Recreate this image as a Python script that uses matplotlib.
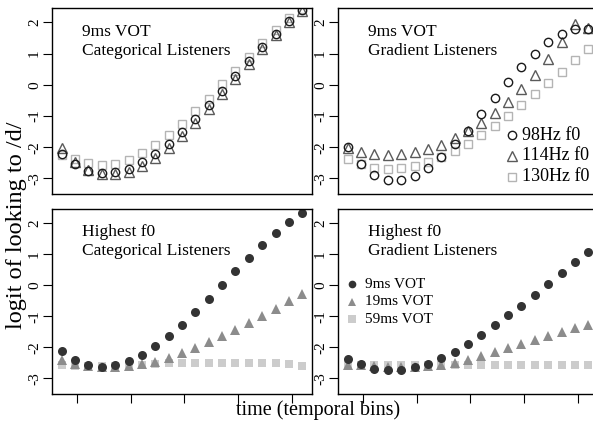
import numpy as np
import matplotlib
matplotlib.use("Agg")
import matplotlib.pyplot as plt

plt.rcParams['font.family'] = ['Liberation Serif', 'DejaVu Serif']

# time bins 1..19
bins = np.arange(1, 20)
xtick_pos = [2.12, 6.15, 10.18, 14.22, 18.25]
ytick_pos = [-3, -2, -1, 0, 1, 2]

# 9ms VOT, categorical listeners (by f0)
tl_98 = [-2.22, -2.54, -2.76, -2.82, -2.80, -2.69, -2.49, -2.21, -1.89, -1.50,
         -1.10, -0.64, -0.19, 0.29, 0.75, 1.20, 1.64, 2.03, 2.39]
tl_114 = [-2.04, -2.47, -2.74, -2.87, -2.87, -2.79, -2.61, -2.34, -2.01, -1.64,
          -1.23, -0.78, -0.30, 0.18, 0.66, 1.14, 1.59, 2.00, 2.36]
tl_130 = [-2.25, -2.37, -2.52, -2.56, -2.53, -2.40, -2.20, -1.93, -1.62, -1.26,
          -0.85, -0.44, 0.01, 0.45, 0.90, 1.33, 1.76, 2.13, 2.42]

# 9ms VOT, gradient listeners (by f0)
tr_98 = [-2.00, -2.53, -2.88, -3.05, -3.05, -2.91, -2.68, -2.32, -1.90, -1.48,
         -0.94, -0.41, 0.10, 0.57, 0.99, 1.36, 1.63, 1.79, 1.79]
tr_114 = [-2.02, -2.16, -2.23, -2.25, -2.23, -2.16, -2.06, -1.92, -1.70, -1.47,
          -1.21, -0.89, -0.54, -0.14, 0.32, 0.83, 1.36, 1.96, 1.82]
tr_130 = [-2.39, -2.55, -2.66, -2.71, -2.68, -2.61, -2.49, -2.32, -2.13, -1.89,
          -1.61, -1.32, -1.00, -0.66, -0.30, 0.07, 0.42, 0.78, 1.14]

# highest f0, categorical listeners (by VOT)
bl_9 = [-2.13, -2.41, -2.58, -2.63, -2.58, -2.45, -2.23, -1.95, -1.63, -1.27,
        -0.87, -0.43, 0.00, 0.45, 0.87, 1.31, 1.69, 2.03, 2.33]
bl_19 = [-2.39, -2.52, -2.59, -2.63, -2.63, -2.59, -2.54, -2.47, -2.33, -2.18,
         -2.01, -1.83, -1.63, -1.43, -1.22, -0.99, -0.75, -0.51, -0.29]
bl_59 = [-2.58, -2.59, -2.60, -2.61, -2.60, -2.59, -2.55, -2.52, -2.50, -2.50,
         -2.50, -2.49, -2.49, -2.49, -2.50, -2.51, -2.51, -2.54, -2.59]

# highest f0, gradient listeners (by VOT)
br_9 = [-2.36, -2.54, -2.69, -2.74, -2.72, -2.63, -2.52, -2.33, -2.14, -1.89,
        -1.59, -1.29, -0.97, -0.65, -0.30, 0.05, 0.40, 0.75, 1.07]
br_19 = [-2.55, -2.58, -2.60, -2.62, -2.62, -2.62, -2.60, -2.55, -2.49, -2.41,
         -2.29, -2.16, -2.03, -1.89, -1.75, -1.62, -1.49, -1.37, -1.27]
br_59 = [-2.58, -2.58, -2.58, -2.57, -2.57, -2.57, -2.57, -2.57, -2.56, -2.56,
         -2.56, -2.56, -2.56, -2.56, -2.56, -2.56, -2.56, -2.56, -2.56]

f0_labels = ['98Hz f0', '114Hz f0', '130Hz f0']
vot_labels = ['9ms VOT', '19ms VOT', '59ms VOT']

open_style = [dict(marker='o', ms=6, mfc='none', mec='#1a1a1a', mew=1.0),
              dict(marker='^', ms=7, mfc='none', mec='#5a5a5a', mew=1.0),
              dict(marker='s', ms=5.5, mfc='none', mec='#b4b4b4', mew=1.0)]
fill_style = [dict(marker='o', ms=6.5, mfc='#333333', mec='#333333', mew=0),
              dict(marker='^', ms=7.5, mfc='#8c8c8c', mec='#8c8c8c', mew=0),
              dict(marker='s', ms=6, mfc='#cccccc', mec='#cccccc', mew=0)]

W, H = 593, 422
fig = plt.figure(figsize=(W / 100, H / 100), dpi=100)


def make_ax(x0, y0, x1, y1, bottom_ticks):
    ax = fig.add_axes([x0 / W, 1 - y1 / H, (x1 - x0) / W, (y1 - y0) / H])
    ax.set_xlim(0.28, 19.72)
    ax.set_ylim(-3.5, 2.46)
    ax.set_yticks(ytick_pos)
    ax.set_yticklabels([str(v) for v in ytick_pos], rotation=90, va='center')
    ax.tick_params(axis='y', length=6.5, width=0.8, pad=1.5, labelsize=11)
    if bottom_ticks:
        ax.set_xticks(xtick_pos)
        ax.set_xticklabels([])
        ax.tick_params(axis='x', length=6.5, width=0.8)
    else:
        ax.set_xticks([])
    for s in ax.spines.values():
        s.set_linewidth(1.0)
    return ax


ax_tl = make_ax(52, 8, 312, 194, False)
ax_tr = make_ax(338, 8, 598, 194, False)
ax_bl = make_ax(52, 209, 312, 394, True)
ax_br = make_ax(338, 209, 598, 394, True)

for ax, series in [(ax_tl, [tl_98, tl_114, tl_130]), (ax_tr, [tr_98, tr_114, tr_130])]:
    for ys, st in reversed(list(zip(series, open_style))):
        ax.plot(bins, ys, ls='none', **st)

for ax, series in [(ax_bl, [bl_9, bl_19, bl_59]), (ax_br, [br_9, br_19, br_59])]:
    for ys, st in reversed(list(zip(series, fill_style))):
        ax.plot(bins, ys, ls='none', **st)

# panel captions
fs = 12.5
ax_tl.text(0.114, 0.849, '9ms VOT', transform=ax_tl.transAxes, fontsize=fs)
ax_tl.text(0.114, 0.745, 'Categorical Listeners', transform=ax_tl.transAxes, fontsize=fs)
ax_tr.text(0.117, 0.849, '9ms VOT', transform=ax_tr.transAxes, fontsize=fs)
ax_tr.text(0.117, 0.745, 'Gradient Listeners', transform=ax_tr.transAxes, fontsize=fs)
ax_bl.text(0.114, 0.854, 'Highest f0', transform=ax_bl.transAxes, fontsize=fs)
ax_bl.text(0.114, 0.749, 'Categorical Listeners', transform=ax_bl.transAxes, fontsize=fs)
ax_br.text(0.117, 0.854, 'Highest f0', transform=ax_br.transAxes, fontsize=fs)
ax_br.text(0.117, 0.749, 'Gradient Listeners', transform=ax_br.transAxes, fontsize=fs)

# legends drawn by hand
for lab, st, yy in zip(f0_labels, open_style, [0.317, 0.206, 0.094]):
    ax_tr.plot([0.668], [yy], transform=ax_tr.transAxes, clip_on=False, **st)
    ax_tr.text(0.708, yy, lab, transform=ax_tr.transAxes, fontsize=13, va='center')
for lab, st, yy in zip(vot_labels, fill_style, [0.593, 0.499, 0.405]):
    st2 = dict(st)
    st2['ms'] = st['ms'] * 0.85
    ax_br.plot([0.053], [yy], transform=ax_br.transAxes, clip_on=False, **st2)
    ax_br.text(0.104, yy, lab, transform=ax_br.transAxes, fontsize=11, va='center')

fig.text(17 / W, 1 - 225 / H, 'logit of looking to /d/', rotation=90,
         ha='center', va='center', fontsize=17.5)
fig.text(318 / W, 1 - 410 / H, 'time (temporal bins)', ha='center', va='center',
         fontsize=14.5)

fig.savefig('out.png', dpi=100)
